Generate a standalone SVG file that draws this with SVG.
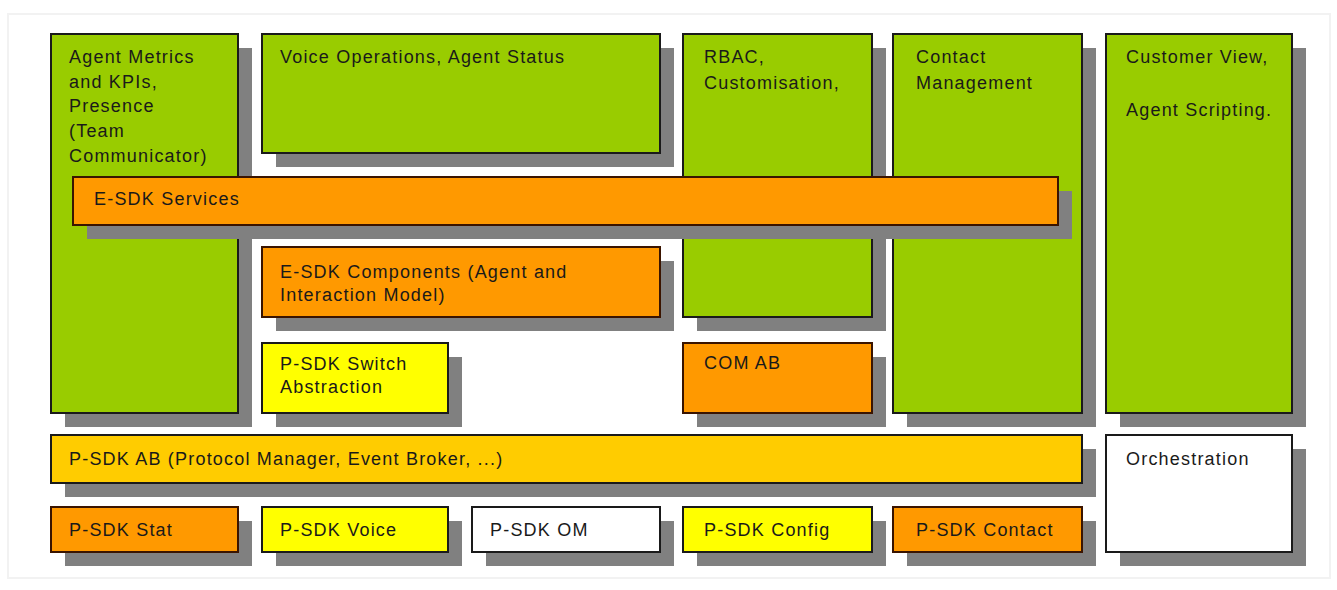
<svg xmlns="http://www.w3.org/2000/svg" width="1337" height="590" viewBox="0 0 1337 590">
<style>
  .sh { fill: #808080; }
  .g { fill: #99cc00; stroke: #1a1a1a; stroke-width: 2; }
  .o { fill: #ff9900; stroke: #3a1400; stroke-width: 2; }
  .y { fill: #ffff00; stroke: #1a1a1a; stroke-width: 2; }
  .gd { fill: #ffcc00; stroke: #1a1a1a; stroke-width: 2; }
  .w { fill: #ffffff; stroke: #1a1a1a; stroke-width: 2; }
  text { font-family: "Liberation Sans", Arial, sans-serif; font-size: 18px; letter-spacing: 1.2px; fill: #1a1a1a; }
</style>
<rect x="0" y="0" width="1337" height="590" fill="#ffffff"/>
<rect x="8" y="14" width="1322" height="564" fill="#ffffff" stroke="#f2f2f2" stroke-width="2"/>

<g id="agent-metrics">
  <rect class="sh" x="65" y="48" width="187" height="379"/>
  <rect class="g" x="51" y="34" width="187" height="379"/>
  <text x="69" y="63">Agent Metrics</text>
  <text x="69" y="88">and KPIs,</text>
  <text x="69" y="112">Presence</text>
  <text x="69" y="137">(Team</text>
  <text x="69" y="162">Communicator)</text>
</g>
<g id="voice-operations">
  <rect class="sh" x="276" y="48" width="398" height="119"/>
  <rect class="g" x="262" y="34" width="398" height="119"/>
  <text x="280" y="63">Voice Operations, Agent Status</text>
</g>
<g id="rbac">
  <rect class="sh" x="697" y="48" width="189" height="283"/>
  <rect class="g" x="683" y="34" width="189" height="283"/>
  <text x="704" y="63">RBAC,</text>
  <text x="704" y="89">Customisation,</text>
</g>
<g id="contact-management">
  <rect class="sh" x="907" y="48" width="189" height="379"/>
  <rect class="g" x="893" y="34" width="189" height="379"/>
  <text x="916" y="63">Contact</text>
  <text x="916" y="89">Management</text>
</g>
<g id="customer-view">
  <rect class="sh" x="1120" y="48" width="186" height="379"/>
  <rect class="g" x="1106" y="34" width="186" height="379"/>
  <text x="1126" y="63">Customer View,</text>
  <text x="1126" y="116">Agent Scripting.</text>
</g>
<g id="esdk-services">
  <rect class="sh" x="87" y="191" width="985" height="48"/>
  <rect class="o" x="73" y="177" width="985" height="48"/>
  <text x="94" y="205">E-SDK Services</text>
</g>
<g id="esdk-components">
  <rect class="sh" x="276" y="261" width="398" height="70"/>
  <rect class="o" x="262" y="247" width="398" height="70"/>
  <text x="280" y="278">E-SDK Components (Agent and</text>
  <text x="280" y="301">Interaction Model)</text>
</g>
<g id="psdk-switch">
  <rect class="sh" x="276" y="357" width="186" height="70"/>
  <rect class="y" x="262" y="343" width="186" height="70"/>
  <text x="280" y="370">P-SDK Switch</text>
  <text x="280" y="393">Abstraction</text>
</g>
<g id="com-ab">
  <rect class="sh" x="697" y="357" width="189" height="70"/>
  <rect class="o" x="683" y="343" width="189" height="70"/>
  <text x="704" y="369">COM AB</text>
</g>
<g id="psdk-ab">
  <rect class="sh" x="65" y="449" width="1031" height="48"/>
  <rect class="gd" x="51" y="435" width="1031" height="48"/>
  <text x="69" y="465">P-SDK AB (Protocol Manager, Event Broker, ...)</text>
</g>
<g id="orchestration">
  <rect class="sh" x="1120" y="449" width="186" height="117"/>
  <rect class="w" x="1106" y="435" width="186" height="117"/>
  <text x="1126" y="465">Orchestration</text>
</g>
<g id="psdk-stat">
  <rect class="sh" x="65" y="521" width="187" height="45"/>
  <rect class="o" x="51" y="507" width="187" height="45"/>
  <text x="69" y="536">P-SDK Stat</text>
</g>
<g id="psdk-voice">
  <rect class="sh" x="276" y="521" width="186" height="45"/>
  <rect class="y" x="262" y="507" width="186" height="45"/>
  <text x="280" y="536">P-SDK Voice</text>
</g>
<g id="psdk-om">
  <rect class="sh" x="486" y="521" width="188" height="45"/>
  <rect class="w" x="472" y="507" width="188" height="45"/>
  <text x="490" y="536">P-SDK OM</text>
</g>
<g id="psdk-config">
  <rect class="sh" x="697" y="521" width="189" height="45"/>
  <rect class="y" x="683" y="507" width="189" height="45"/>
  <text x="704" y="536">P-SDK Config</text>
</g>
<g id="psdk-contact">
  <rect class="sh" x="907" y="521" width="189" height="45"/>
  <rect class="o" x="893" y="507" width="189" height="45"/>
  <text x="916" y="536">P-SDK Contact</text>
</g>
<g id="connectors"></g>
</svg>
